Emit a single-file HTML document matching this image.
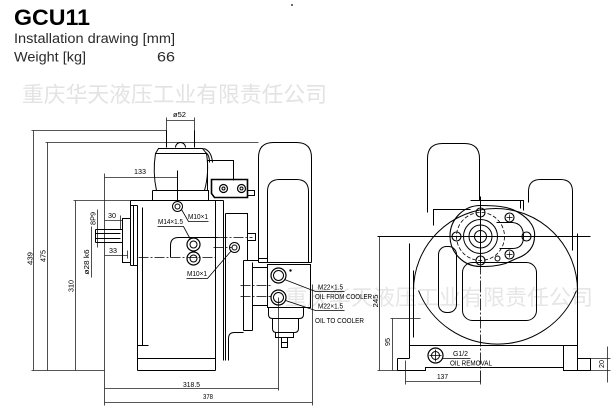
<!DOCTYPE html>
<html><head><meta charset="utf-8">
<style>
html,body{margin:0;padding:0;background:#fff;}
body{width:616px;height:408px;overflow:hidden;position:relative;}
svg{position:absolute;left:0;top:0;}
</style></head><body>
<svg width="616" height="408" viewBox="0 0 616 408" xmlns="http://www.w3.org/2000/svg" font-family="'Liberation Sans', sans-serif">
<!-- watermarks -->
<text x="22" y="102" font-size="21.8" fill="#e3e3e3" font-family="'Liberation Sans','Noto Sans CJK SC',sans-serif" textLength="305" lengthAdjust="spacingAndGlyphs">重庆华天液压工业有限责任公司</text>
<text x="285" y="305" font-size="21.8" fill="#e6e6e6" font-family="'Liberation Sans','Noto Sans CJK SC',sans-serif" textLength="308" lengthAdjust="spacingAndGlyphs">重庆华天液压工业有限责任公司</text>

<!-- header -->
<text x="14" y="25" font-size="22" font-weight="bold" fill="#000" textLength="76" lengthAdjust="spacingAndGlyphs">GCU11</text>
<text x="14" y="43" font-size="13.5" fill="#2a2a2a" textLength="161" lengthAdjust="spacingAndGlyphs">Installation drawing [mm]</text>
<text x="14" y="61.5" font-size="13.5" fill="#2a2a2a" textLength="72" lengthAdjust="spacingAndGlyphs">Weight [kg]</text>
<text x="157" y="61.5" font-size="13.5" fill="#2a2a2a" textLength="18" lengthAdjust="spacingAndGlyphs">66</text>
<circle cx="292" cy="5" r="0.9" fill="#000"/>

<g fill="none" stroke="#000" stroke-width="1" transform="translate(0.5,0.5)">
<!-- LEFT VIEW dimension lines -->
<path stroke="#222" stroke-width="0.8" d="M31 130H166 M33 130V370 M45 142H258 M47 142V370 M73 200H152 M75 200V370 M31 370H104 M104 173V405 M104 177H177 M104 220H122 M104 255H127 M104 388H278 M104 402H312 M166 120H194 M166 117V130 M194 117V130 M278 297V390 M312 284V405 M91 226V277 M97 209V247 M120 215V229 M127 250V258"/>
<!-- shaft -->
<path d="M95 229H122 M95 233H120 M95 238H120 M95 242H122 M95 229V242"/>
<!-- flange -->
<path d="M122 218H130V262H122Z M130 200V265 M133 205V265 M130 265H137 M130 205H137"/>
<!-- motor box -->
<path d="M130 200H223 M137 205V370 M142 207V345 M137 345H148 M137 358H215 M137 370H215 M215 200V370 M223 200V360 M225 213V360"/>
<!-- inner rounded -->
<path d="M170 257V245Q170 237 178 237H217"/>
<path stroke-dasharray="10 2 2 2" stroke-width="0.8" d="M138 257H215 M217 237H252 M213 247H231"/>
<!-- bell -->
<path d="M166 130V147 M194 130V147 M175 147A5 5 0 0 1 185 147 M155 153L158 148H202L206 153 M155 153H206 M155 153Q152 172 156 190 M206 153Q209 172 204 190 M152 190H208V200 M152 190V200 M203 148Q211 150 212 162 M205 152Q209 154 209 162 M177 170V201"/>
<!-- control bracket -->
<path d="M207 160H233V180 M207 160V190 M247 190H254V195H247"/>
<path stroke-width="1.6" d="M211 179H247V197H214L211 193Z"/>
<circle cx="223" cy="188" r="4" stroke-width="1.2"/><circle cx="223" cy="188" r="1.5"/>
<circle cx="241" cy="188" r="4" stroke-width="1.2"/><circle cx="241" cy="188" r="1.5"/>
<!-- ports -->
<circle cx="177" cy="206" r="5"/><circle cx="177" cy="206" r="2.5"/>
<circle cx="193" cy="244" r="6.5" stroke-width="1.2"/><circle cx="193" cy="244" r="3.5"/>
<circle cx="193" cy="258" r="6.5" stroke-width="1.2"/><circle cx="193" cy="258" r="3.5"/>
<circle cx="234" cy="247" r="5"/><circle cx="234" cy="247" r="2.5"/>
<!-- leaders -->
<path stroke-width="0.8" d="M181 209L188 221H208 M157 226H183L190 239 M186 278H207L231 250 M284 279L315 291H344 M285 300L315 310H344"/>
<!-- pump body -->
<path d="M225 213H247V260 M247 233H255V240H247 M243 260V330 M243 260H258 M252 262V330 M252 267H267 M252 305H267 M243 330H252 M228 360V338Q228 332 234 332H243 M258 230V258H267"/>
<path stroke-dasharray="10 2 2 2" stroke-width="0.8" d="M240 285H270 M240 296H270"/>
<!-- cooler -->
<path d="M258 262V157Q258 142 273 142H296Q311 142 311 157V262 M258 262H311 M267 262V191Q267 179 279 179H296Q308 179 308 191V262"/>
<!-- filter block -->
<path d="M267 264H310V307H267Z"/>
<circle cx="278" cy="275" r="7.5" stroke-width="1.2"/><circle cx="278" cy="275" r="5"/>
<circle cx="278" cy="297" r="7.5" stroke-width="1.2"/><circle cx="278" cy="297" r="5"/>
<circle cx="290" cy="270" r="0.7" fill="#000"/>
<path d="M268 307V314Q268 318 272 318H299Q303 318 303 314V307 M272 318V328Q272 332 276 332H294Q298 332 298 328V318 M275 332V337H293V332 M281 337V347H287V337 M281 342H287"/>

<!-- RIGHT VIEW -->
<path d="M427 212V158Q427 143 442 143H464Q479 143 479 158V200 M528 202V191Q528 179 540 179H560Q572 179 572 191V250"/>
<path d="M433 225V209H470 M470 200H523V210 M520 200V208"/>
<path d="M413 290A82 82 0 1 1 577 290"/>
<path d="M418 290A85 85 0 0 0 576 290"/>
<path d="M409 243V358 M413 270V337 M577 233V370"/>
<path d="M409 345H577 M397 358H409 M397 358V370H425V367H563 M563 345V370H590V358H577"/>
<rect x="438" y="246" width="18" height="66" rx="8"/>
<rect x="462" y="262" width="74" height="58" rx="10"/>
<!-- flange -->
<path d="M480 205C500 205 510 207 518 212C530 219 535 228 534 236C534 246 528 254 516 258L505 263C495 266 488 266 480 266A30.5 30.5 0 0 1 480 205Z" stroke-width="1.1"/>
<path d="M496 222H512Q523 223 523 236Q523 248 512 248H499"/>
<circle cx="480" cy="236" r="24" stroke-dasharray="4 2" stroke-width="0.8"/>
<circle cx="480" cy="236" r="17"/>
<circle cx="480" cy="236" r="11.5"/>
<circle cx="480" cy="236" r="6"/>
<circle cx="497" cy="258" r="2.5"/>
<g stroke-width="1.1">
<circle cx="480" cy="212" r="4.5"/><circle cx="456" cy="236" r="4.5"/><circle cx="480" cy="260" r="4.5"/>
<circle cx="526" cy="236" r="4.5"/><circle cx="509" cy="217" r="4.5"/><circle cx="509" cy="254" r="4.5"/>
</g>
<path stroke-width="0.7" d="M506 217H512 M509 214V220 M506 254H512 M509 251V257"/>
<!-- crosshair -->
<path stroke-width="1" d="M377 236H590 M480 196V262"/>
<path stroke-width="0.8" stroke-dasharray="12 2 2 2" d="M480 262V384"/>
<!-- G1/2 -->
<circle cx="435" cy="355" r="7.5" stroke-width="1.2"/><circle cx="435" cy="355" r="4"/>
<path stroke-width="0.8" d="M429 355H441 M435 349V361 M442 358H470"/>
<!-- right dims -->
<path stroke="#222" stroke-width="0.8" d="M379 236V370 M377 370H397 M392 318V370 M390 318H420 M405 360V384 M405 381H480 M480 370V384 M607 346V382 M590 358H610 M590 370H610"/>
</g>

<!-- labels -->
<g font-size="7" fill="#000">
<text x="134" y="174" textLength="12" lengthAdjust="spacingAndGlyphs">133</text>
<text x="173" y="117" textLength="13" lengthAdjust="spacingAndGlyphs">ø52</text>
<text x="108" y="218" textLength="8" lengthAdjust="spacingAndGlyphs">30</text>
<text x="109" y="253" textLength="8" lengthAdjust="spacingAndGlyphs">33</text>
<text x="188" y="219" textLength="20" lengthAdjust="spacingAndGlyphs">M10×1</text>
<text x="158" y="224" textLength="25" lengthAdjust="spacingAndGlyphs">M14×1.5</text>
<text x="187" y="276" textLength="20" lengthAdjust="spacingAndGlyphs">M10×1</text>
<text x="318" y="289.5" textLength="25" lengthAdjust="spacingAndGlyphs">M22×1.5</text>
<text x="315" y="299" textLength="57" lengthAdjust="spacingAndGlyphs">OIL FROM COOLER</text>
<text x="318" y="308.5" textLength="25" lengthAdjust="spacingAndGlyphs">M22×1.5</text>
<text x="315" y="323" textLength="49" lengthAdjust="spacingAndGlyphs">OIL TO COOLER</text>
<text x="183" y="387" textLength="17" lengthAdjust="spacingAndGlyphs">318.5</text>
<text x="203" y="399" textLength="10" lengthAdjust="spacingAndGlyphs">378</text>
<text x="437" y="379" textLength="11" lengthAdjust="spacingAndGlyphs">137</text>
<text x="453" y="356" textLength="15" lengthAdjust="spacingAndGlyphs">G1/2</text>
<text x="450" y="365.5" textLength="42" lengthAdjust="spacingAndGlyphs">OIL REMOVAL</text>
<g text-anchor="middle">
<text transform="translate(32.5 258.5) rotate(-90)" textLength="13" lengthAdjust="spacingAndGlyphs">439</text>
<text transform="translate(45.5 256) rotate(-90)" textLength="12" lengthAdjust="spacingAndGlyphs">475</text>
<text transform="translate(73.5 286) rotate(-90)" textLength="12" lengthAdjust="spacingAndGlyphs">310</text>
<text transform="translate(89 262) rotate(-90)" textLength="25" lengthAdjust="spacingAndGlyphs">ø28 k6</text>
<text transform="translate(95.5 218.5) rotate(-90)" textLength="13" lengthAdjust="spacingAndGlyphs">8P9</text>
<text transform="translate(378 301) rotate(-90)" textLength="13" lengthAdjust="spacingAndGlyphs">245</text>
<text transform="translate(390 342) rotate(-90)" textLength="8" lengthAdjust="spacingAndGlyphs">95</text>
<text transform="translate(604 364) rotate(-90)" textLength="8" lengthAdjust="spacingAndGlyphs">20</text>
</g>
</g>
</svg>
</body></html>
